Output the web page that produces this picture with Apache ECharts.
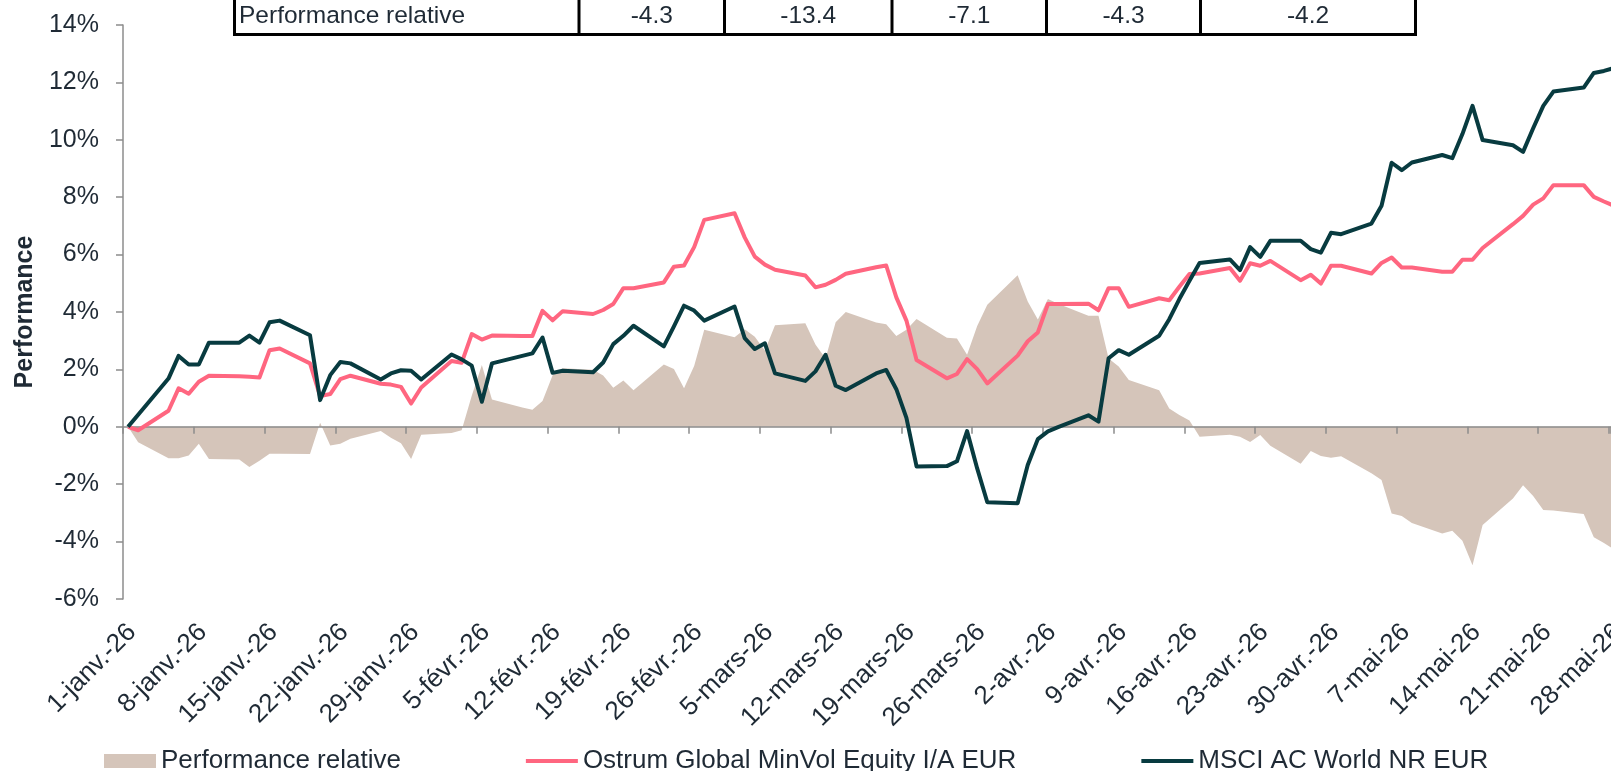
<!DOCTYPE html>
<html>
<head>
<meta charset="utf-8">
<title>Performance relative</title>
<script src="https://cdn.jsdelivr.net/npm/echarts@6/dist/echarts.min.js"></script>
<style>
  html, body { margin: 0; padding: 0; background: #ffffff; overflow: hidden; }
  #chart { width: 1611px; height: 771px; }
</style>
</head>
<body>
<div id="chart"></div>
<script>
// trading days shown on the chart (weekends are bridged by straight lines)
const dates = [
  '2026-01-01', '2026-01-02',
  '2026-01-05', '2026-01-06', '2026-01-07', '2026-01-08', '2026-01-09',
  '2026-01-12', '2026-01-13', '2026-01-14', '2026-01-15', '2026-01-16',
  '2026-01-19', '2026-01-20', '2026-01-21', '2026-01-22', '2026-01-23',
  '2026-01-26', '2026-01-27', '2026-01-28', '2026-01-29', '2026-01-30',
  '2026-02-02', '2026-02-03', '2026-02-04', '2026-02-05', '2026-02-06',
  '2026-02-09', '2026-02-10', '2026-02-11', '2026-02-12', '2026-02-13',
  '2026-02-16', '2026-02-17', '2026-02-18', '2026-02-19', '2026-02-20',
  '2026-02-23', '2026-02-24', '2026-02-25', '2026-02-26', '2026-02-27',
  '2026-03-02', '2026-03-03', '2026-03-04', '2026-03-05', '2026-03-06',
  '2026-03-09', '2026-03-10', '2026-03-11', '2026-03-12', '2026-03-13',
  '2026-03-16', '2026-03-17', '2026-03-18', '2026-03-19', '2026-03-20',
  '2026-03-23', '2026-03-24', '2026-03-25', '2026-03-26', '2026-03-27',
  '2026-03-30', '2026-03-31', '2026-04-01', '2026-04-02', '2026-04-03',
  '2026-04-06', '2026-04-07', '2026-04-08', '2026-04-09', '2026-04-10',
  '2026-04-13', '2026-04-14', '2026-04-15', '2026-04-16', '2026-04-17',
  '2026-04-20', '2026-04-21', '2026-04-22', '2026-04-23', '2026-04-24',
  '2026-04-27', '2026-04-28', '2026-04-29', '2026-04-30', '2026-05-01',
  '2026-05-04', '2026-05-05', '2026-05-06', '2026-05-07', '2026-05-08',
  '2026-05-11', '2026-05-12', '2026-05-13', '2026-05-14', '2026-05-15',
  '2026-05-18', '2026-05-19', '2026-05-20', '2026-05-21', '2026-05-22',
  '2026-05-25', '2026-05-26', '2026-05-27', '2026-05-28'
];

// Ostrum Global MinVol Equity I/A EUR, cumulative performance in %
const ostrum = [
  0, -0.12,
  0.56, 1.34, 1.15, 1.57, 1.78,
  1.76, 1.74, 1.72, 2.67, 2.73,
  2.21, 1.07, 1.14, 1.66, 1.78,
  1.50, 1.47, 1.39, 0.81, 1.37,
  2.29, 2.23, 3.23, 3.04, 3.18,
  3.16, 3.16, 4.04, 3.71, 4.03,
  3.93, 4.07, 4.28, 4.83, 4.83,
  5.03, 5.58, 5.62, 6.26, 7.21,
  7.44, 6.60, 5.93, 5.65, 5.47,
  5.27, 4.86, 4.95, 5.12, 5.33,
  5.56, 5.62, 4.51, 3.70, 2.33,
  1.69, 1.84, 2.36, 2.01, 1.51,
  2.48, 2.98, 3.29, 4.28, 4.28,
  4.29, 4.06, 4.83, 4.83, 4.18,
  4.48, 4.41, 4.88, 5.32, 5.34,
  5.53, 5.09, 5.70, 5.61, 5.78,
  5.11, 5.30, 4.99, 5.61, 5.61,
  5.34, 5.71, 5.90, 5.55, 5.55,
  5.40, 5.40, 5.82, 5.82, 6.23,
  7.06, 7.35, 7.74, 7.96, 8.42,
  8.42, 8.01, 7.85, 7.70
];

// MSCI AC World NR EUR, cumulative performance in %
const msci = [
  0, 0.42,
  1.68, 2.47, 2.17, 2.17, 2.93,
  2.93, 3.18, 2.93, 3.64, 3.70,
  3.19, 0.93, 1.80, 2.26, 2.21,
  1.65, 1.86, 1.97, 1.95, 1.65,
  2.52, 2.35, 2.13, 0.87, 2.21,
  2.47, 2.56, 3.11, 1.88, 1.95,
  1.90, 2.24, 2.88, 3.17, 3.52,
  2.80, 3.50, 4.22, 4.05, 3.70,
  4.19, 3.09, 2.71, 2.91, 1.86,
  1.60, 1.93, 2.51, 1.43, 1.28,
  1.86, 1.98, 1.31, 0.31, -1.38,
  -1.37, -1.20, -0.15, -1.45, -2.63,
  -2.66, -1.33, -0.43, -0.16, -0.01,
  0.40, 0.18, 2.39, 2.67, 2.51,
  3.17, 3.75, 4.45, 5.09, 5.71,
  5.83, 5.46, 6.26, 5.92, 6.48,
  6.48, 6.19, 6.07, 6.76, 6.71,
  7.08, 7.70, 9.20, 8.94, 9.21,
  9.47, 9.36, 10.20, 11.18, 9.99,
  9.81, 9.58, 10.40, 11.18, 11.68,
  11.82, 12.33, 12.40, 12.50
];

// Performance relative (area), in %
const relative = [
  0, -0.54,
  -1.10, -1.10, -1.00, -0.59, -1.12,
  -1.14, -1.40, -1.18, -0.94, -0.94,
  -0.95, 0.14, -0.65, -0.59, -0.42,
  -0.15, -0.38, -0.57, -1.12, -0.28,
  -0.22, -0.12, 1.08, 2.15, 0.95,
  0.67, 0.59, 0.90, 1.80, 2.04,
  1.99, 1.79, 1.36, 1.61, 1.27,
  2.17, 2.01, 1.34, 2.12, 3.38,
  3.12, 3.40, 3.14, 2.66, 3.54,
  3.61, 2.87, 2.38, 3.64, 4.00,
  3.63, 3.57, 3.16, 3.38, 3.76,
  3.10, 3.08, 2.51, 3.51, 4.25,
  5.28, 4.37, 3.74, 4.45, 4.29,
  3.87, 3.87, 2.38, 2.10, 1.63,
  1.27, 0.64, 0.41, 0.22, -0.35,
  -0.28, -0.35, -0.53, -0.29, -0.66,
  -1.29, -0.84, -1.02, -1.08, -1.03,
  -1.62, -1.85, -3.02, -3.11, -3.35,
  -3.72, -3.62, -3.97, -4.82, -3.42,
  -2.50, -2.04, -2.41, -2.90, -2.92,
  -3.04, -3.85, -4.05, -4.27
];

const seriesNames = ['Performance relative', 'Ostrum Global MinVol Equity I/A EUR', 'MSCI AC World NR EUR'];
const tableLabel = 'Performance relative';
const tableValues = ['-4.3', '-13.4', '-7.1', '-4.3', '-4.2'];
const frMonths = ['janv.', 'févr.', 'mars', 'avr.', 'mai', 'juin', 'juil.', 'août', 'sept.', 'oct.', 'nov.', 'déc.'];

(function () {
  'use strict';

  const DAY = 86400000;
  const START = Date.UTC(2026, 0, 1);
  const FONT = '"Liberation Sans", Arial, sans-serif';
  const TEXT = '#1f2a35';
  const AXIS = '#8c8c8c';
  const colors = { area: '#d5c5ba', ostrum: '#ff6680', msci: '#083b40' };
  // plain bar used as legend icon for the two lines (no marker)
  const LINE_ICON = 'path://M0,0H52V4H0Z';

  // points sit in the middle of their day, as on the original date axis
  function dayPos(s) {
    return (Date.parse(s + 'T00:00:00Z') - START) / DAY + 0.5;
  }

  function pairs(values) {
    return dates.map((d, i) => [dayPos(d), values[i]]);
  }

  function dateLabel(v) {
    const r = Math.round(v);
    if (Math.abs(v - r) > 1e-6 || r % 7 !== 0) return '';
    const d = new Date(START + r * DAY);
    return d.getUTCDate() + '-' + frMonths[d.getUTCMonth()] + '-' + String(d.getUTCFullYear()).slice(2);
  }

  function tableGraphics() {
    const cols = [234.5, 579, 724.5, 892, 1046.5, 1200.5, 1415.5];
    const els = [];
    cols.forEach(x => {
      els.push({ type: 'line', shape: { x1: x, y1: -4, x2: x, y2: 36 }, style: { stroke: '#000', lineWidth: 3 } });
    });
    els.push({ type: 'line', shape: { x1: 233, y1: 34.5, x2: 1417, y2: 34.5 }, style: { stroke: '#000', lineWidth: 3 } });
    els.push({
      type: 'text', x: 239, y: 16,
      style: { text: tableLabel, fill: TEXT, fontSize: 24.5, fontFamily: FONT, align: 'left', verticalAlign: 'middle' }
    });
    tableValues.forEach((t, i) => {
      els.push({
        type: 'text', x: (cols[i + 1] + cols[i + 2]) / 2, y: 16,
        style: { text: t, fill: TEXT, fontSize: 24.5, fontFamily: FONT, align: 'center', verticalAlign: 'middle' }
      });
    });
    return els;
  }

  const xBase = { type: 'value', min: 0, max: 147.2, interval: 7, splitLine: { show: false } };

  const option = {
    animation: false,
    textStyle: { fontFamily: FONT },
    // the original is clipped at the right edge: keep the plot size fixed
    grid: { left: 123, right: 0, top: 25, bottom: 172, containLabel: false, outerBoundsMode: 'none' },
    legend: {
      left: 99,
      top: 743,
      itemWidth: 52,
      itemHeight: 14,
      itemGap: 125,
      textStyle: { fontSize: 26, color: TEXT, fontFamily: FONT },
      data: [
        { name: seriesNames[0], icon: 'rect' },
        { name: seriesNames[1], icon: LINE_ICON },
        { name: seriesNames[2], icon: LINE_ICON }
      ]
    },
    xAxis: [
      Object.assign({}, xBase, {
        position: 'bottom',
        axisLine: { show: false, onZero: false },
        axisTick: { show: false },
        axisLabel: {
          rotate: 45, margin: 20, fontSize: 26, verticalAlign: 'top',
          color: TEXT, fontFamily: FONT, formatter: dateLabel
        }
      }),
      Object.assign({}, xBase, {
        position: 'top',
        z: 2,
        axisLine: { show: true, onZero: true, lineStyle: { color: AXIS, width: 1.5 } },
        axisTick: { show: true, inside: true, length: 7, lineStyle: { color: AXIS, width: 1.5 } },
        axisLabel: { show: false }
      })
    ],
    yAxis: {
      type: 'value',
      min: -6,
      max: 14,
      interval: 2,
      name: 'Performance',
      nameLocation: 'middle',
      nameGap: 84,
      nameTextStyle: { fontSize: 25, fontWeight: 'bold', color: TEXT, fontFamily: FONT },
      axisLine: { show: true, onZero: false, lineStyle: { color: AXIS, width: 1.5 } },
      axisTick: { show: true, length: 7, lineStyle: { color: AXIS, width: 1.5 } },
      axisLabel: { formatter: '{value}%', fontSize: 25, margin: 24, color: TEXT, fontFamily: FONT },
      splitLine: { show: false }
    },
    graphic: tableGraphics(),
    series: [
      {
        name: seriesNames[0],
        type: 'line',
        xAxisIndex: 0,
        z: 1,
        symbol: 'none',
        data: pairs(relative),
        itemStyle: { color: colors.area },
        lineStyle: { width: 0 },
        areaStyle: { color: colors.area, opacity: 1 }
      },
      {
        name: seriesNames[1],
        type: 'line',
        xAxisIndex: 0,
        z: 3,
        symbol: 'none',
        data: pairs(ostrum),
        itemStyle: { color: colors.ostrum },
        lineStyle: { color: colors.ostrum, width: 4, join: 'round' }
      },
      {
        name: seriesNames[2],
        type: 'line',
        xAxisIndex: 0,
        z: 4,
        symbol: 'none',
        data: pairs(msci),
        itemStyle: { color: colors.msci },
        lineStyle: { color: colors.msci, width: 4, join: 'round' }
      }
    ]
  };

  const chart = echarts.init(document.getElementById('chart'));
  chart.setOption(option);
})();
</script>
</body>
</html>
